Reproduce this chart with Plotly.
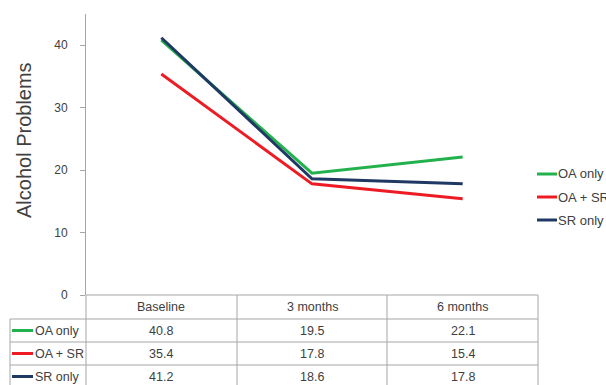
import plotly.graph_objects as go

# Alcohol problems score by treatment group over follow-up
timepoints = ["Baseline", "3 months", "6 months"]
groups = ["OA only", "OA + SR", "SR only"]
oa_only = [40.8, 19.5, 22.1]
oa_sr = [35.4, 17.8, 15.4]
sr_only = [41.2, 18.6, 17.8]
series = [oa_only, oa_sr, sr_only]
colors = ["#22B14C", "#ED1C24", "#1F3864"]
y_ticks = [0, 10, 20, 30, 40]

W, H = 606, 385
L, R, T, B = 86, 68, 14, 90
plot_w = W - L - R
plot_h = H - T - B

def px_x(px):
    return (px - L) / plot_w

def px_y(py):
    return (H - B - py) / plot_h

fig = go.Figure()
for name, vals, col in zip(groups, series, colors):
    fig.add_trace(go.Scatter(x=timepoints, y=vals, mode="lines", name=name,
                             line=dict(color=col, width=3), showlegend=False))

grid_col = "#A6A6A6"
table_font = dict(family="Liberation Sans, Arial", size=12.5, color="#404040")
legend_font = dict(family="Liberation Sans, Arial", size=13, color="#404040")

shapes = []
annotations = []

# data table under the plot
row_edges = [295, 319, 342, 365, 388]
col_edges = [86, 237, 387, 538]
for i, ry in enumerate(row_edges):
    x0 = 86 if i == 0 else 10
    shapes.append(dict(type="line", xref="paper", yref="paper",
                       x0=px_x(x0), x1=px_x(538), y0=px_y(ry), y1=px_y(ry),
                       line=dict(color=grid_col, width=1)))
for cx in col_edges:
    shapes.append(dict(type="line", xref="paper", yref="paper",
                       x0=px_x(cx), x1=px_x(cx), y0=px_y(295), y1=px_y(388),
                       line=dict(color=grid_col, width=1)))
shapes.append(dict(type="line", xref="paper", yref="paper",
                   x0=px_x(10), x1=px_x(10), y0=px_y(319), y1=px_y(388),
                   line=dict(color=grid_col, width=1)))

# header row
for tp in timepoints:
    annotations.append(dict(x=tp, xref="x", y=px_y(307), yref="paper", text=tp,
                            showarrow=False, font=table_font, xanchor="center", yanchor="middle"))

# body rows
for r, (name, vals, col) in enumerate(zip(groups, series, colors)):
    yc = (row_edges[r + 1] + row_edges[r + 2]) / 2
    shapes.append(dict(type="line", xref="paper", yref="paper",
                       x0=px_x(12), x1=px_x(33), y0=px_y(yc), y1=px_y(yc),
                       line=dict(color=col, width=3)))
    annotations.append(dict(x=px_x(33), xref="paper", y=px_y(yc), yref="paper", text=name,
                            showarrow=False, font=table_font, xanchor="left", yanchor="middle"))
    for tp, v in zip(timepoints, vals):
        annotations.append(dict(x=tp, xref="x", y=px_y(yc), yref="paper", text=f"{v:.1f}",
                                showarrow=False, font=table_font, xanchor="center", yanchor="middle"))

# legend at the right edge
for r, (name, col) in enumerate(zip(groups, colors)):
    ly = 174 + r * 23
    shapes.append(dict(type="line", xref="paper", yref="paper",
                       x0=px_x(537), x1=px_x(557), y0=px_y(ly), y1=px_y(ly),
                       line=dict(color=col, width=3)))
    annotations.append(dict(x=px_x(556), xref="paper", y=px_y(ly), yref="paper", text=name,
                            showarrow=False, font=legend_font, xanchor="left", yanchor="middle"))

# y-axis title
annotations.append(dict(x=px_x(24), xref="paper", y=px_y(140), yref="paper",
                        text="Alcohol Problems", textangle=-90, showarrow=False,
                        font=dict(family="Liberation Sans, Arial", size=20, color="#404040"),
                        xanchor="center", yanchor="middle"))

fig.update_layout(
    width=W, height=H,
    margin=dict(l=L, r=R, t=T, b=B),
    paper_bgcolor="white", plot_bgcolor="white",
    shapes=shapes, annotations=annotations,
    xaxis=dict(type="category", range=[-0.5, 2.5], showticklabels=False, ticks="",
               showgrid=False, zeroline=False, showline=False, fixedrange=True),
    yaxis=dict(range=[0, 45], tickvals=y_ticks, ticks="outside", ticklen=5,
               tickcolor=grid_col, showline=True, linecolor=grid_col, linewidth=1,
               showgrid=False, zeroline=False, ticklabelstandoff=10,
               tickfont=dict(family="Liberation Sans, Arial", size=12, color="#404040")),
)

fig.write_html("out.html")
